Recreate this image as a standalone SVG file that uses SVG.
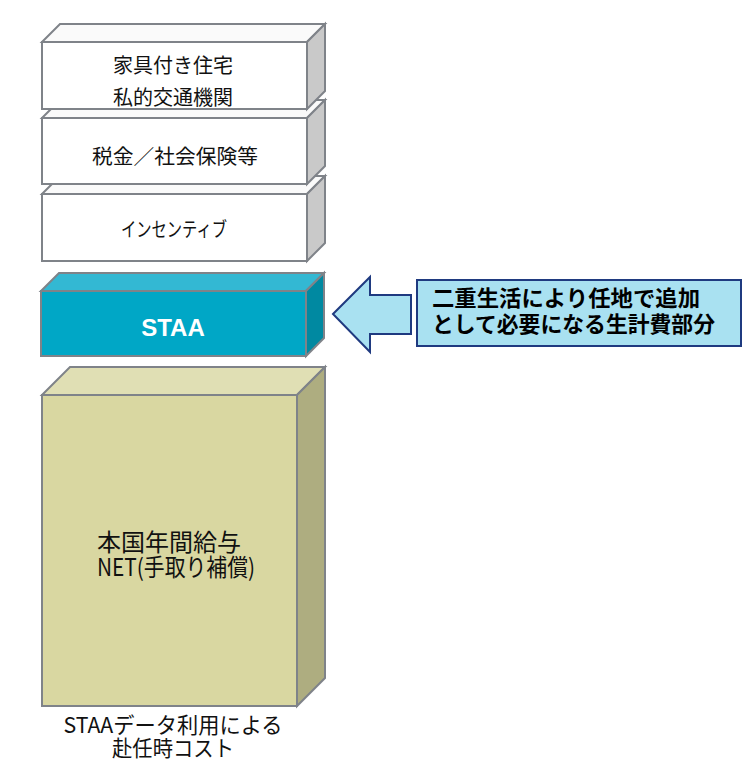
<svg xmlns="http://www.w3.org/2000/svg" width="750" height="779" viewBox="0 0 750 779">
<style>
.edge{stroke:#7F8389;stroke-width:2;stroke-linejoin:miter}
.wf{fill:#FFFFFF}.wt{fill:#FAFAFA}.ws{fill:#C9C9C9}
.cf{fill:#00A7C6}.ct{fill:#33B8D3}.cs{fill:#0089A1}
.kf{fill:#D9D7A1}.kt{fill:#E0DFB4}.ks{fill:#AEAD80}
.t{font-family:"Noto Sans CJK JP","Liberation Sans",sans-serif;fill:#111111;text-anchor:middle}
.b{font-family:"Liberation Sans","Noto Sans CJK JP",sans-serif;font-weight:bold;fill:#FFFFFF;text-anchor:middle}
.c{font-family:"Noto Sans CJK JP","Liberation Sans",sans-serif;font-weight:bold;fill:#000000}
</style>
<rect width="750" height="779" fill="#FFFFFF"/>
<g id="incentive">
<polygon class="edge wt" points="42,194 60,176 325,176 307,194"/>
<polygon class="edge ws" points="307,194 325,176 325,243 307,261"/>
<rect class="edge wf" x="42" y="194" width="265" height="67"/>
<text class="t" x="174" y="237" font-size="20" textLength="106" lengthAdjust="spacingAndGlyphs">インセンティブ</text>
</g>
<g id="tax">
<polygon class="edge wt" points="42,118 60,100 325,100 307,118"/>
<polygon class="edge ws" points="307,118 325,100 325,166 307,184"/>
<rect class="edge wf" x="42" y="118" width="265" height="66"/>
<text class="t" x="175" y="164" font-size="20.5" textLength="166" lengthAdjust="spacingAndGlyphs">税金／社会保険等</text>
</g>
<g id="housing">
<polygon class="edge wt" points="42,42 60,24 325,24 307,42"/>
<polygon class="edge ws" points="307,42 325,24 325,91 307,109"/>
<rect class="edge wf" x="42" y="42" width="265" height="67"/>
<text class="t" x="173" y="73" font-size="20">家具付き住宅</text>
<text class="t" x="173" y="105" font-size="20">私的交通機関</text>
</g>
<g id="staa">
<polygon class="edge ct" points="41,291 59,273 324,273 306,291"/>
<polygon class="edge cs" points="306,291 324,273 324,338 306,356"/>
<rect class="edge cf" x="41" y="291" width="265" height="65"/>
<text class="b" x="173" y="336" font-size="24">STAA</text>
</g>
<g id="salary">
<polygon class="edge kt" points="42,395 70,367 325,367 297,395"/>
<polygon class="edge ks" points="297,395 325,367 325,678 297,706"/>
<rect class="edge kf" x="42" y="395" width="255" height="311"/>
<text class="t" x="169" y="551" font-size="24">本国年間給与</text>
<text class="t" x="176" y="576" font-size="24" textLength="158" lengthAdjust="spacingAndGlyphs">NET(手取り補償)</text>
</g>
<g id="caption">
<text class="t" x="173" y="733" font-size="22" textLength="219" lengthAdjust="spacingAndGlyphs">STAAデータ利用による</text>
<text class="t" x="173" y="756" font-size="22" textLength="122" lengthAdjust="spacingAndGlyphs">赴任時コスト</text>
</g>
<g id="connectors">
<polygon points="333,314 370,277 370,295 411,295 411,334 370,334 370,352" fill="#A9E1F1" stroke="#1F3A80" stroke-width="2" stroke-linejoin="miter"/>
</g>
<g id="note">
<rect x="417" y="280" width="324" height="66" fill="#A9E1F1" stroke="#1F3A80" stroke-width="2"/>
<text class="c" x="432" y="306" font-size="22" textLength="268" lengthAdjust="spacingAndGlyphs">二重生活により任地で追加</text>
<text class="c" x="432" y="332" font-size="22" textLength="283" lengthAdjust="spacingAndGlyphs">として必要になる生計費部分</text>
</g>
</svg>
